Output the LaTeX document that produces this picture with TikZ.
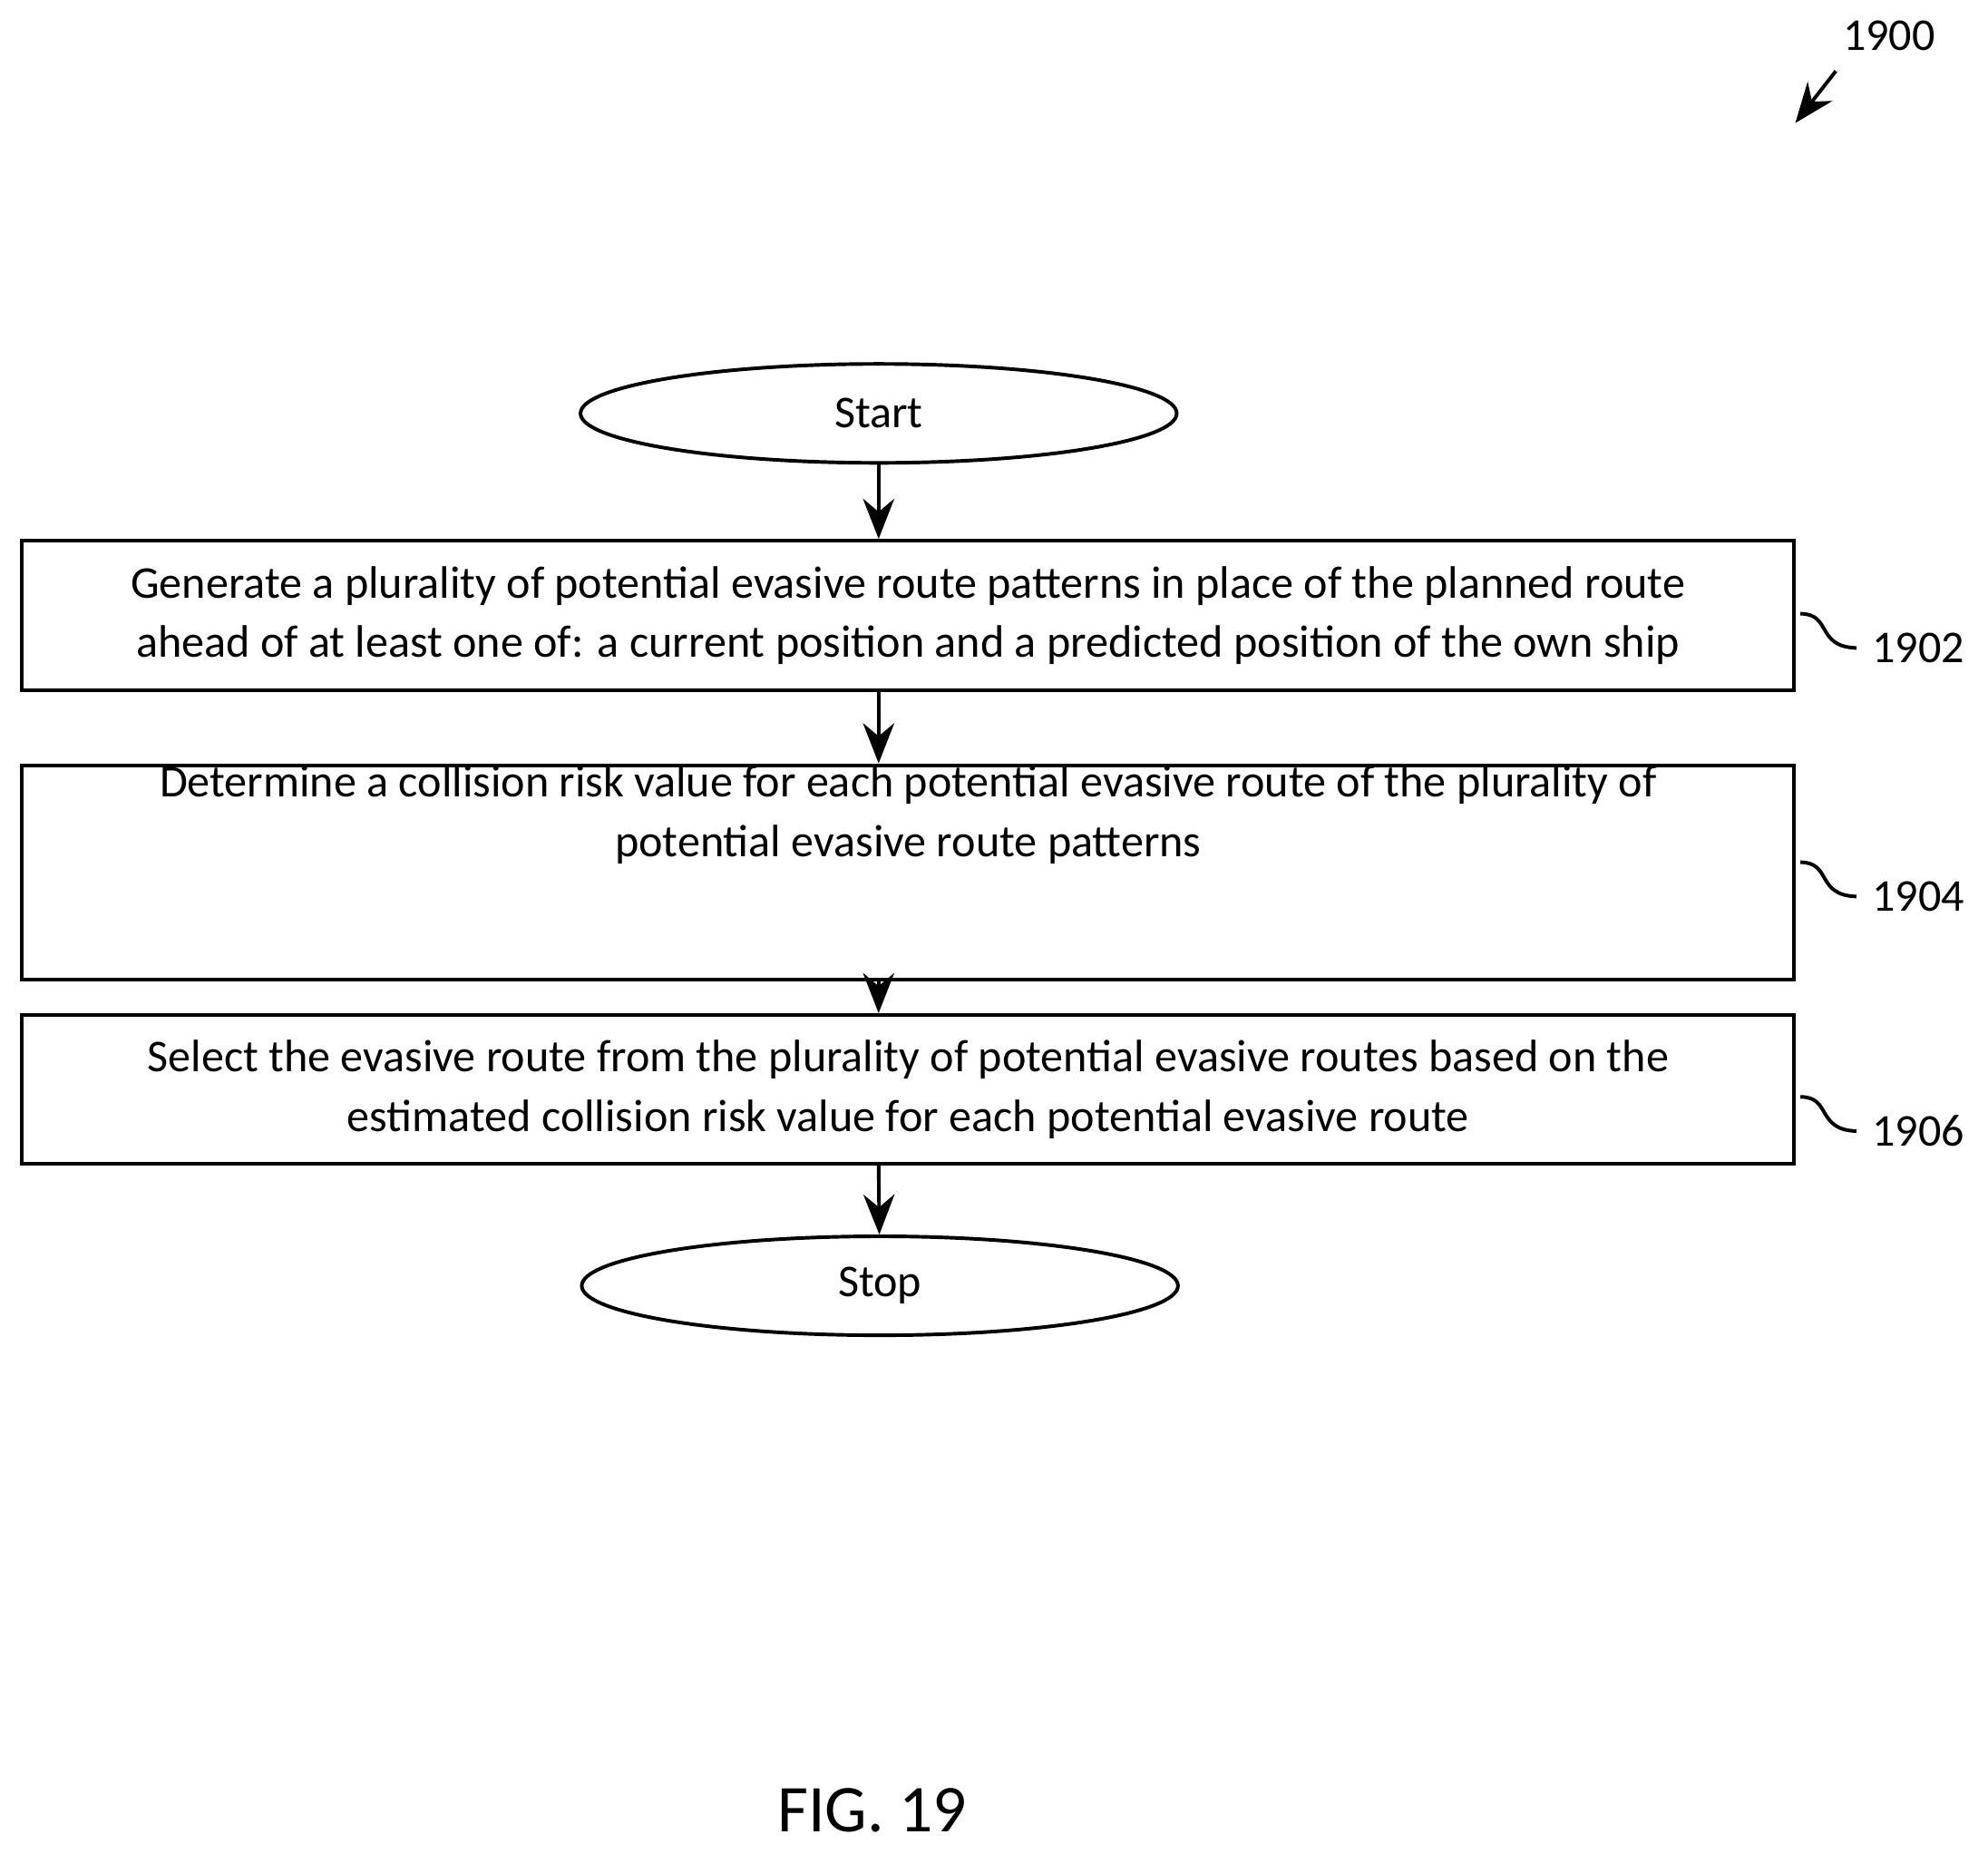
\documentclass[tikz,border=0pt]{standalone}
\usepackage{fontspec}
\setmainfont{Carlito}
\usetikzlibrary{shapes.geometric,arrows.meta}
\begin{document}
\begin{tikzpicture}[x=0.01cm,y=-0.01cm,
  box/.style={draw,line width=0.8pt,minimum width=13.97cm,anchor=north west,inner sep=0pt,align=center,font=\fontsize{10.2}{13.4}\selectfont},
  term/.style={draw,ellipse,line width=0.8pt,minimum width=4.7cm,minimum height=0.78cm,inner sep=0pt,font=\fontsize{10.2}{12}\selectfont},
  arr/.style={-{Stealth[length=9pt,width=7pt]},line width=0.8pt},
  lbl/.style={font=\fontsize{10.2}{12}\selectfont}]
\useasboundingbox (0,0) rectangle (1568,1462);
\node[term] (start) at (693,326) {Start};
\node[box,minimum height=1.18cm] (b1) at (16,425) {Generate a plurality of potential evasive route patterns in place of the planned route\\ahead of at least one of: a current position and a predicted position of the own ship};
\node[box,minimum height=1.37cm] (b2) at (16,602) {Determine a collision risk value for each potential evasive route of the plurality of\\potential evasive route patterns\\[0.5cm]};
\node[box,minimum height=1.17cm] (b3) at (16,799) {Select the evasive route from the plurality of potential evasive routes based on the\\estimated collision risk value for each potential evasive route};
\node[term] (stop) at (694,1014) {Stop};
\draw[arr] (start) -- (start|-b1.north);
\draw[arr] (b1.south-|start) -- (b2.north-|start);
\draw[arr] (b2.south-|start) -- (b3.north-|start);
\draw[arr] (b3.south-|start) -- (stop);
\node[lbl] (l1) at (1513,511) {1902};
\node[lbl] (l2) at (1513,707) {1904};
\node[lbl] (l3) at (1513,892) {1906};
\foreach \y/\n in {484/l1,680/l2,865/l3}{
  \draw[line width=0.8pt] (1420,\y) .. controls (1445,\y) and (1432,\y+26) .. (\n.west);
}
\node[lbl] (l0) at (1490,28) {1900};
\coordinate (a0) at (1448,56);
\draw[arr] (a0) -- (1416,97);
\node[font=\fontsize{15}{18}\selectfont] (fig) at (688,1428) {FIG. 19};
\end{tikzpicture}
\end{document}
